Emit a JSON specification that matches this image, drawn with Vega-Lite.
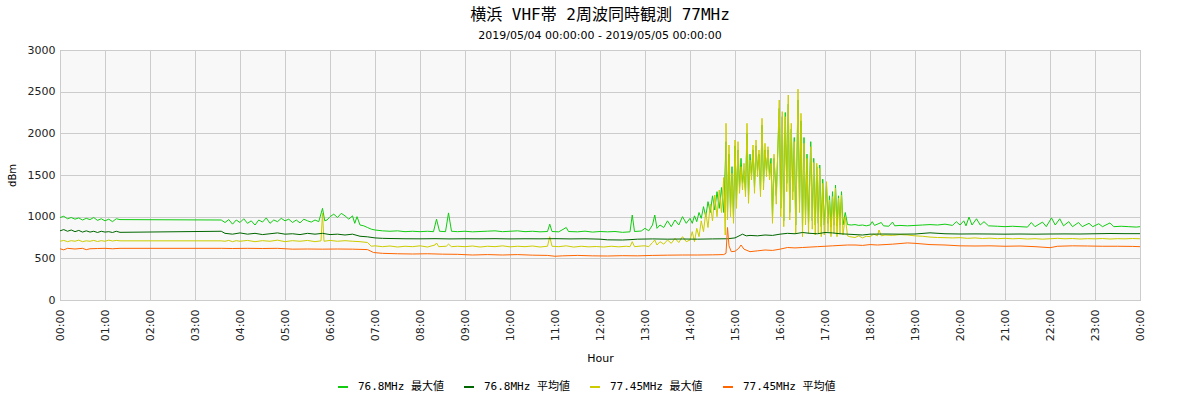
{
"$schema": "https://vega.github.io/schema/vega-lite/v6.json",
"width": 1080, "height": 250,
"autosize": {"type": "none"},
"padding": {"left": 60, "top": 50, "right": 60, "bottom": 100},
"background": "#ffffff",
"title": {"text": "横浜 VHF帯 2周波同時観測 77MHz", "subtitle": "2019/05/04 00:00:00 - 2019/05/05 00:00:00", "anchor": "middle", "font": "DejaVu Sans Mono, Noto Sans CJK JP", "fontSize": 16, "fontWeight": "normal", "color": "#000000", "subtitleFont": "DejaVu Sans", "subtitleFontSize": 11, "subtitleColor": "#000000", "subtitlePadding": 7, "offset": 3},
"config": {
 "view": {"fill": "#f8f8f8", "stroke": "#aaaaaa", "strokeWidth": 1},
 "axis": {"gridColor": "#cccccc", "gridWidth": 1, "domain": false, "ticks": false, "labelFont": "DejaVu Sans", "labelFontSize": 11, "labelColor": "#222222", "titleFont": "DejaVu Sans", "titleFontSize": 11, "titleFontWeight": "normal", "titleColor": "#000000"}
},
"data": {"values": [
{"s":"76.8MHz 最大値","t":"2019-05-04T00:00","v":990},{"s":"76.8MHz 最大値","t":"2019-05-04T00:05","v":1005},{"s":"76.8MHz 最大値","t":"2019-05-04T00:10","v":975},{"s":"76.8MHz 最大値","t":"2019-05-04T00:15","v":990},{"s":"76.8MHz 最大値","t":"2019-05-04T00:20","v":970},{"s":"76.8MHz 最大値","t":"2019-05-04T00:25","v":985},{"s":"76.8MHz 最大値","t":"2019-05-04T00:30","v":960},{"s":"76.8MHz 最大値","t":"2019-05-04T00:35","v":980},{"s":"76.8MHz 最大値","t":"2019-05-04T00:40","v":965},{"s":"76.8MHz 最大値","t":"2019-05-04T00:45","v":990},{"s":"76.8MHz 最大値","t":"2019-05-04T00:50","v":955},{"s":"76.8MHz 最大値","t":"2019-05-04T00:55","v":975},{"s":"76.8MHz 最大値","t":"2019-05-04T01:00","v":950},{"s":"76.8MHz 最大値","t":"2019-05-04T01:05","v":970},{"s":"76.8MHz 最大値","t":"2019-05-04T01:10","v":940},{"s":"76.8MHz 最大値","t":"2019-05-04T01:15","v":975},{"s":"76.8MHz 最大値","t":"2019-05-04T01:20","v":965},
{"s":"76.8MHz 最大値","t":"2019-05-04T03:35","v":960},{"s":"76.8MHz 最大値","t":"2019-05-04T03:40","v":930},{"s":"76.8MHz 最大値","t":"2019-05-04T03:45","v":965},{"s":"76.8MHz 最大値","t":"2019-05-04T03:50","v":910},{"s":"76.8MHz 最大値","t":"2019-05-04T03:55","v":960},{"s":"76.8MHz 最大値","t":"2019-05-04T04:00","v":930},{"s":"76.8MHz 最大値","t":"2019-05-04T04:05","v":975},{"s":"76.8MHz 最大値","t":"2019-05-04T04:10","v":920},{"s":"76.8MHz 最大値","t":"2019-05-04T04:15","v":950},{"s":"76.8MHz 最大値","t":"2019-05-04T04:20","v":900},{"s":"76.8MHz 最大値","t":"2019-05-04T04:25","v":960},{"s":"76.8MHz 最大値","t":"2019-05-04T04:30","v":935},{"s":"76.8MHz 最大値","t":"2019-05-04T04:35","v":985},{"s":"76.8MHz 最大値","t":"2019-05-04T04:40","v":920},{"s":"76.8MHz 最大値","t":"2019-05-04T04:45","v":960},{"s":"76.8MHz 最大値","t":"2019-05-04T04:50","v":940},{"s":"76.8MHz 最大値","t":"2019-05-04T04:55","v":980},{"s":"76.8MHz 最大値","t":"2019-05-04T05:00","v":950},{"s":"76.8MHz 最大値","t":"2019-05-04T05:05","v":970},{"s":"76.8MHz 最大値","t":"2019-05-04T05:10","v":930},{"s":"76.8MHz 最大値","t":"2019-05-04T05:15","v":960},{"s":"76.8MHz 最大値","t":"2019-05-04T05:20","v":925},{"s":"76.8MHz 最大値","t":"2019-05-04T05:25","v":970},{"s":"76.8MHz 最大値","t":"2019-05-04T05:30","v":950},{"s":"76.8MHz 最大値","t":"2019-05-04T05:35","v":935},{"s":"76.8MHz 最大値","t":"2019-05-04T05:40","v":960},{"s":"76.8MHz 最大値","t":"2019-05-04T05:45","v":940},{"s":"76.8MHz 最大値","t":"2019-05-04T05:50","v":1100},{"s":"76.8MHz 最大値","t":"2019-05-04T05:53","v":950},{"s":"76.8MHz 最大値","t":"2019-05-04T05:56","v":960},{"s":"76.8MHz 最大値","t":"2019-05-04T06:00","v":1000},{"s":"76.8MHz 最大値","t":"2019-05-04T06:05","v":1030},{"s":"76.8MHz 最大値","t":"2019-05-04T06:10","v":990},{"s":"76.8MHz 最大値","t":"2019-05-04T06:15","v":1040},{"s":"76.8MHz 最大値","t":"2019-05-04T06:20","v":1010},{"s":"76.8MHz 最大値","t":"2019-05-04T06:25","v":970},{"s":"76.8MHz 最大値","t":"2019-05-04T06:30","v":1010},{"s":"76.8MHz 最大値","t":"2019-05-04T06:33","v":920},{"s":"76.8MHz 最大値","t":"2019-05-04T06:36","v":1000},{"s":"76.8MHz 最大値","t":"2019-05-04T06:40","v":900},{"s":"76.8MHz 最大値","t":"2019-05-04T06:45","v":890},{"s":"76.8MHz 最大値","t":"2019-05-04T06:50","v":870},{"s":"76.8MHz 最大値","t":"2019-05-04T06:55","v":850},{"s":"76.8MHz 最大値","t":"2019-05-04T07:00","v":840},{"s":"76.8MHz 最大値","t":"2019-05-04T07:10","v":830},{"s":"76.8MHz 最大値","t":"2019-05-04T07:20","v":825},{"s":"76.8MHz 最大値","t":"2019-05-04T07:30","v":830},{"s":"76.8MHz 最大値","t":"2019-05-04T07:40","v":820},{"s":"76.8MHz 最大値","t":"2019-05-04T07:50","v":825},{"s":"76.8MHz 最大値","t":"2019-05-04T08:00","v":820},{"s":"76.8MHz 最大値","t":"2019-05-04T08:10","v":825},{"s":"76.8MHz 最大値","t":"2019-05-04T08:18","v":820},{"s":"76.8MHz 最大値","t":"2019-05-04T08:22","v":970},{"s":"76.8MHz 最大値","t":"2019-05-04T08:26","v":825},{"s":"76.8MHz 最大値","t":"2019-05-04T08:34","v":820},{"s":"76.8MHz 最大値","t":"2019-05-04T08:38","v":1045},{"s":"76.8MHz 最大値","t":"2019-05-04T08:42","v":825},{"s":"76.8MHz 最大値","t":"2019-05-04T08:50","v":820},{"s":"76.8MHz 最大値","t":"2019-05-04T09:00","v":825},{"s":"76.8MHz 最大値","t":"2019-05-04T09:10","v":818},{"s":"76.8MHz 最大値","t":"2019-05-04T09:20","v":822},{"s":"76.8MHz 最大値","t":"2019-05-04T09:30","v":826},{"s":"76.8MHz 最大値","t":"2019-05-04T09:40","v":830},{"s":"76.8MHz 最大値","t":"2019-05-04T09:50","v":820},{"s":"76.8MHz 最大値","t":"2019-05-04T10:00","v":825},{"s":"76.8MHz 最大値","t":"2019-05-04T10:10","v":830},{"s":"76.8MHz 最大値","t":"2019-05-04T10:20","v":820},{"s":"76.8MHz 最大値","t":"2019-05-04T10:30","v":825},{"s":"76.8MHz 最大値","t":"2019-05-04T10:40","v":818},{"s":"76.8MHz 最大値","t":"2019-05-04T10:50","v":822},{"s":"76.8MHz 最大値","t":"2019-05-04T10:53","v":910},{"s":"76.8MHz 最大値","t":"2019-05-04T10:56","v":822},{"s":"76.8MHz 最大値","t":"2019-05-04T11:05","v":818},{"s":"76.8MHz 最大値","t":"2019-05-04T11:15","v":870},{"s":"76.8MHz 最大値","t":"2019-05-04T11:18","v":822},{"s":"76.8MHz 最大値","t":"2019-05-04T11:30","v":818},{"s":"76.8MHz 最大値","t":"2019-05-04T11:40","v":826},{"s":"76.8MHz 最大値","t":"2019-05-04T11:50","v":815},{"s":"76.8MHz 最大値","t":"2019-05-04T12:00","v":822},{"s":"76.8MHz 最大値","t":"2019-05-04T12:10","v":818},{"s":"76.8MHz 最大値","t":"2019-05-04T12:20","v":822},{"s":"76.8MHz 最大値","t":"2019-05-04T12:30","v":812},{"s":"76.8MHz 最大値","t":"2019-05-04T12:40","v":818},{"s":"76.8MHz 最大値","t":"2019-05-04T12:43","v":1020},{"s":"76.8MHz 最大値","t":"2019-05-04T12:46","v":822},{"s":"76.8MHz 最大値","t":"2019-05-04T12:55","v":828},{"s":"76.8MHz 最大値","t":"2019-05-04T13:00","v":860},{"s":"76.8MHz 最大値","t":"2019-05-04T13:05","v":830},{"s":"76.8MHz 最大値","t":"2019-05-04T13:10","v":900},{"s":"76.8MHz 最大値","t":"2019-05-04T13:13","v":1020},{"s":"76.8MHz 最大値","t":"2019-05-04T13:16","v":860},{"s":"76.8MHz 最大値","t":"2019-05-04T13:20","v":900},{"s":"76.8MHz 最大値","t":"2019-05-04T13:25","v":870},{"s":"76.8MHz 最大値","t":"2019-05-04T13:30","v":950},{"s":"76.8MHz 最大値","t":"2019-05-04T13:35","v":880},{"s":"76.8MHz 最大値","t":"2019-05-04T13:40","v":960},{"s":"76.8MHz 最大値","t":"2019-05-04T13:45","v":900},{"s":"76.8MHz 最大値","t":"2019-05-04T13:50","v":1000},{"s":"76.8MHz 最大値","t":"2019-05-04T13:55","v":920},{"s":"76.8MHz 最大値","t":"2019-05-04T14:00","v":980},{"s":"76.8MHz 最大値","t":"2019-05-04T14:03","v":920},{"s":"76.8MHz 最大値","t":"2019-05-04T14:06","v":1010},{"s":"76.8MHz 最大値","t":"2019-05-04T14:09","v":940},{"s":"76.8MHz 最大値","t":"2019-05-04T14:12","v":1050},{"s":"76.8MHz 最大値","t":"2019-05-04T14:15","v":980},{"s":"76.8MHz 最大値","t":"2019-05-04T14:18","v":1120},{"s":"76.8MHz 最大値","t":"2019-05-04T14:21","v":1000},{"s":"76.8MHz 最大値","t":"2019-05-04T14:24","v":1180},{"s":"76.8MHz 最大値","t":"2019-05-04T14:27","v":1050},{"s":"76.8MHz 最大値","t":"2019-05-04T14:30","v":1250},{"s":"76.8MHz 最大値","t":"2019-05-04T14:33","v":1080},{"s":"76.8MHz 最大値","t":"2019-05-04T14:36","v":1300},{"s":"76.8MHz 最大値","t":"2019-05-04T14:39","v":1100},{"s":"76.8MHz 最大値","t":"2019-05-04T14:42","v":1350},{"s":"76.8MHz 最大値","t":"2019-05-04T14:45","v":1050},
{"s":"76.8MHz 最大値","t":"2019-05-04T14:48","v":1900},{"s":"76.8MHz 最大値","t":"2019-05-04T14:50","v":1050},{"s":"76.8MHz 最大値","t":"2019-05-04T14:52","v":1750},{"s":"76.8MHz 最大値","t":"2019-05-04T14:54","v":1100},{"s":"76.8MHz 最大値","t":"2019-05-04T14:56","v":1600},{"s":"76.8MHz 最大値","t":"2019-05-04T14:58","v":1000},{"s":"76.8MHz 最大値","t":"2019-05-04T15:00","v":1850},{"s":"76.8MHz 最大値","t":"2019-05-04T15:02","v":1200},{"s":"76.8MHz 最大値","t":"2019-05-04T15:04","v":1800},{"s":"76.8MHz 最大値","t":"2019-05-04T15:06","v":1350},{"s":"76.8MHz 最大値","t":"2019-05-04T15:08","v":1700},{"s":"76.8MHz 最大値","t":"2019-05-04T15:10","v":1400},{"s":"76.8MHz 最大値","t":"2019-05-04T15:12","v":1550},{"s":"76.8MHz 最大値","t":"2019-05-04T15:14","v":1300},{"s":"76.8MHz 最大値","t":"2019-05-04T15:16","v":2000},{"s":"76.8MHz 最大値","t":"2019-05-04T15:18","v":1250},{"s":"76.8MHz 最大値","t":"2019-05-04T15:20","v":1750},{"s":"76.8MHz 最大値","t":"2019-05-04T15:22","v":1500},{"s":"76.8MHz 最大値","t":"2019-05-04T15:24","v":1800},{"s":"76.8MHz 最大値","t":"2019-05-04T15:26","v":1350},{"s":"76.8MHz 最大値","t":"2019-05-04T15:28","v":1850},{"s":"76.8MHz 最大値","t":"2019-05-04T15:30","v":1550},{"s":"76.8MHz 最大値","t":"2019-05-04T15:32","v":1750},{"s":"76.8MHz 最大値","t":"2019-05-04T15:34","v":1300},{"s":"76.8MHz 最大値","t":"2019-05-04T15:36","v":2100},{"s":"76.8MHz 最大値","t":"2019-05-04T15:38","v":1400},{"s":"76.8MHz 最大値","t":"2019-05-04T15:40","v":1800},{"s":"76.8MHz 最大値","t":"2019-05-04T15:42","v":1550},{"s":"76.8MHz 最大値","t":"2019-05-04T15:44","v":1800},{"s":"76.8MHz 最大値","t":"2019-05-04T15:46","v":1500},{"s":"76.8MHz 最大値","t":"2019-05-04T15:48","v":1700},{"s":"76.8MHz 最大値","t":"2019-05-04T15:50","v":1000},{"s":"76.8MHz 最大値","t":"2019-05-04T15:52","v":1700},{"s":"76.8MHz 最大値","t":"2019-05-04T15:55","v":1250},{"s":"76.8MHz 最大値","t":"2019-05-04T15:59","v":2300},{"s":"76.8MHz 最大値","t":"2019-05-04T16:01","v":1100},{"s":"76.8MHz 最大値","t":"2019-05-04T16:03","v":2200},{"s":"76.8MHz 最大値","t":"2019-05-04T16:05","v":950},{"s":"76.8MHz 最大値","t":"2019-05-04T16:07","v":2250},{"s":"76.8MHz 最大値","t":"2019-05-04T16:09","v":1400},{"s":"76.8MHz 最大値","t":"2019-05-04T16:11","v":2350},{"s":"76.8MHz 最大値","t":"2019-05-04T16:13","v":1050},{"s":"76.8MHz 最大値","t":"2019-05-04T16:15","v":2050},{"s":"76.8MHz 最大値","t":"2019-05-04T16:17","v":1300},{"s":"76.8MHz 最大値","t":"2019-05-04T16:19","v":1950},{"s":"76.8MHz 最大値","t":"2019-05-04T16:21","v":900},{"s":"76.8MHz 最大値","t":"2019-05-04T16:24","v":2400},{"s":"76.8MHz 最大値","t":"2019-05-04T16:26","v":1150},{"s":"76.8MHz 最大値","t":"2019-05-04T16:28","v":2150},{"s":"76.8MHz 最大値","t":"2019-05-04T16:30","v":880},{"s":"76.8MHz 最大値","t":"2019-05-04T16:32","v":1950},{"s":"76.8MHz 最大値","t":"2019-05-04T16:34","v":1000},{"s":"76.8MHz 最大値","t":"2019-05-04T16:36","v":1750},{"s":"76.8MHz 最大値","t":"2019-05-04T16:38","v":920},{"s":"76.8MHz 最大値","t":"2019-05-04T16:41","v":1900},{"s":"76.8MHz 最大値","t":"2019-05-04T16:43","v":950},{"s":"76.8MHz 最大値","t":"2019-05-04T16:45","v":1700},{"s":"76.8MHz 最大値","t":"2019-05-04T16:47","v":900},{"s":"76.8MHz 最大値","t":"2019-05-04T16:49","v":1600},{"s":"76.8MHz 最大値","t":"2019-05-04T16:51","v":920},{"s":"76.8MHz 最大値","t":"2019-05-04T16:53","v":1620},{"s":"76.8MHz 最大値","t":"2019-05-04T16:55","v":880},{"s":"76.8MHz 最大値","t":"2019-05-04T16:57","v":1450},{"s":"76.8MHz 最大値","t":"2019-05-04T16:59","v":900},{"s":"76.8MHz 最大値","t":"2019-05-04T17:02","v":1380},{"s":"76.8MHz 最大値","t":"2019-05-04T17:04","v":920},{"s":"76.8MHz 最大値","t":"2019-05-04T17:06","v":1250},{"s":"76.8MHz 最大値","t":"2019-05-04T17:08","v":880},{"s":"76.8MHz 最大値","t":"2019-05-04T17:10","v":1300},{"s":"76.8MHz 最大値","t":"2019-05-04T17:12","v":900},{"s":"76.8MHz 最大値","t":"2019-05-04T17:14","v":1380},{"s":"76.8MHz 最大値","t":"2019-05-04T17:16","v":890},{"s":"76.8MHz 最大値","t":"2019-05-04T17:18","v":1250},{"s":"76.8MHz 最大値","t":"2019-05-04T17:20","v":900},{"s":"76.8MHz 最大値","t":"2019-05-04T17:22","v":1300},{"s":"76.8MHz 最大値","t":"2019-05-04T17:24","v":900},{"s":"76.8MHz 最大値","t":"2019-05-04T17:27","v":1050},{"s":"76.8MHz 最大値","t":"2019-05-04T17:30","v":905},
{"s":"76.8MHz 最大値","t":"2019-05-04T17:35","v":900},{"s":"76.8MHz 最大値","t":"2019-05-04T17:40","v":905},{"s":"76.8MHz 最大値","t":"2019-05-04T17:45","v":895},{"s":"76.8MHz 最大値","t":"2019-05-04T17:50","v":900},{"s":"76.8MHz 最大値","t":"2019-05-04T17:55","v":890},{"s":"76.8MHz 最大値","t":"2019-05-04T18:00","v":900},{"s":"76.8MHz 最大値","t":"2019-05-04T18:03","v":940},{"s":"76.8MHz 最大値","t":"2019-05-04T18:06","v":895},{"s":"76.8MHz 最大値","t":"2019-05-04T18:15","v":930},{"s":"76.8MHz 最大値","t":"2019-05-04T18:18","v":890},{"s":"76.8MHz 最大値","t":"2019-05-04T18:25","v":885},{"s":"76.8MHz 最大値","t":"2019-05-04T18:30","v":935},{"s":"76.8MHz 最大値","t":"2019-05-04T18:33","v":890},{"s":"76.8MHz 最大値","t":"2019-05-04T18:40","v":895},{"s":"76.8MHz 最大値","t":"2019-05-04T18:50","v":890},{"s":"76.8MHz 最大値","t":"2019-05-04T19:00","v":895},{"s":"76.8MHz 最大値","t":"2019-05-04T19:10","v":900},{"s":"76.8MHz 最大値","t":"2019-05-04T19:20","v":905},{"s":"76.8MHz 最大値","t":"2019-05-04T19:30","v":900},{"s":"76.8MHz 最大値","t":"2019-05-04T19:40","v":910},{"s":"76.8MHz 最大値","t":"2019-05-04T19:50","v":895},{"s":"76.8MHz 最大値","t":"2019-05-04T19:55","v":940},{"s":"76.8MHz 最大値","t":"2019-05-04T20:00","v":900},{"s":"76.8MHz 最大値","t":"2019-05-04T20:05","v":950},{"s":"76.8MHz 最大値","t":"2019-05-04T20:08","v":890},{"s":"76.8MHz 最大値","t":"2019-05-04T20:12","v":995},{"s":"76.8MHz 最大値","t":"2019-05-04T20:16","v":900},{"s":"76.8MHz 最大値","t":"2019-05-04T20:22","v":975},{"s":"76.8MHz 最大値","t":"2019-05-04T20:27","v":900},{"s":"76.8MHz 最大値","t":"2019-05-04T20:32","v":940},{"s":"76.8MHz 最大値","t":"2019-05-04T20:38","v":890},{"s":"76.8MHz 最大値","t":"2019-05-04T20:50","v":885},{"s":"76.8MHz 最大値","t":"2019-05-04T21:00","v":880},{"s":"76.8MHz 最大値","t":"2019-05-04T21:10","v":885},{"s":"76.8MHz 最大値","t":"2019-05-04T21:20","v":880},{"s":"76.8MHz 最大値","t":"2019-05-04T21:30","v":875},{"s":"76.8MHz 最大値","t":"2019-05-04T21:35","v":930},{"s":"76.8MHz 最大値","t":"2019-05-04T21:40","v":880},{"s":"76.8MHz 最大値","t":"2019-05-04T21:50","v":935},{"s":"76.8MHz 最大値","t":"2019-05-04T21:55","v":880},{"s":"76.8MHz 最大値","t":"2019-05-04T22:02","v":985},{"s":"76.8MHz 最大値","t":"2019-05-04T22:07","v":900},{"s":"76.8MHz 最大値","t":"2019-05-04T22:13","v":975},{"s":"76.8MHz 最大値","t":"2019-05-04T22:18","v":890},{"s":"76.8MHz 最大値","t":"2019-05-04T22:25","v":940},{"s":"76.8MHz 最大値","t":"2019-05-04T22:30","v":880},{"s":"76.8MHz 最大値","t":"2019-05-04T22:38","v":930},{"s":"76.8MHz 最大値","t":"2019-05-04T22:43","v":880},{"s":"76.8MHz 最大値","t":"2019-05-04T22:52","v":920},{"s":"76.8MHz 最大値","t":"2019-05-04T22:57","v":880},{"s":"76.8MHz 最大値","t":"2019-05-04T23:05","v":915},{"s":"76.8MHz 最大値","t":"2019-05-04T23:10","v":880},{"s":"76.8MHz 最大値","t":"2019-05-04T23:20","v":925},{"s":"76.8MHz 最大値","t":"2019-05-04T23:25","v":880},{"s":"76.8MHz 最大値","t":"2019-05-04T23:35","v":885},{"s":"76.8MHz 最大値","t":"2019-05-04T23:45","v":880},{"s":"76.8MHz 最大値","t":"2019-05-04T23:55","v":875},{"s":"76.8MHz 最大値","t":"2019-05-05T00:00","v":880},
{"s":"77.45MHz 最大値","t":"2019-05-04T00:00","v":705},{"s":"77.45MHz 最大値","t":"2019-05-04T00:05","v":715},{"s":"77.45MHz 最大値","t":"2019-05-04T00:10","v":700},{"s":"77.45MHz 最大値","t":"2019-05-04T00:15","v":712},{"s":"77.45MHz 最大値","t":"2019-05-04T00:20","v":705},{"s":"77.45MHz 最大値","t":"2019-05-04T00:25","v":718},{"s":"77.45MHz 最大値","t":"2019-05-04T00:30","v":700},{"s":"77.45MHz 最大値","t":"2019-05-04T00:35","v":710},{"s":"77.45MHz 最大値","t":"2019-05-04T00:40","v":705},{"s":"77.45MHz 最大値","t":"2019-05-04T00:45","v":715},{"s":"77.45MHz 最大値","t":"2019-05-04T00:50","v":702},{"s":"77.45MHz 最大値","t":"2019-05-04T00:55","v":712},{"s":"77.45MHz 最大値","t":"2019-05-04T01:00","v":705},{"s":"77.45MHz 最大値","t":"2019-05-04T01:05","v":718},{"s":"77.45MHz 最大値","t":"2019-05-04T01:10","v":708},{"s":"77.45MHz 最大値","t":"2019-05-04T01:15","v":715},{"s":"77.45MHz 最大値","t":"2019-05-04T01:20","v":710},
{"s":"77.45MHz 最大値","t":"2019-05-04T03:35","v":710},{"s":"77.45MHz 最大値","t":"2019-05-04T03:40","v":705},{"s":"77.45MHz 最大値","t":"2019-05-04T03:45","v":715},{"s":"77.45MHz 最大値","t":"2019-05-04T03:50","v":700},{"s":"77.45MHz 最大値","t":"2019-05-04T03:55","v":712},{"s":"77.45MHz 最大値","t":"2019-05-04T04:00","v":705},{"s":"77.45MHz 最大値","t":"2019-05-04T04:10","v":715},{"s":"77.45MHz 最大値","t":"2019-05-04T04:20","v":700},{"s":"77.45MHz 最大値","t":"2019-05-04T04:30","v":712},{"s":"77.45MHz 最大値","t":"2019-05-04T04:40","v":705},{"s":"77.45MHz 最大値","t":"2019-05-04T04:50","v":718},{"s":"77.45MHz 最大値","t":"2019-05-04T05:00","v":700},{"s":"77.45MHz 最大値","t":"2019-05-04T05:10","v":712},{"s":"77.45MHz 最大値","t":"2019-05-04T05:20","v":705},{"s":"77.45MHz 最大値","t":"2019-05-04T05:30","v":715},{"s":"77.45MHz 最大値","t":"2019-05-04T05:40","v":700},{"s":"77.45MHz 最大値","t":"2019-05-04T05:48","v":710},{"s":"77.45MHz 最大値","t":"2019-05-04T05:50","v":1040},{"s":"77.45MHz 最大値","t":"2019-05-04T05:52","v":705},{"s":"77.45MHz 最大値","t":"2019-05-04T06:00","v":715},{"s":"77.45MHz 最大値","t":"2019-05-04T06:10","v":705},{"s":"77.45MHz 最大値","t":"2019-05-04T06:20","v":712},{"s":"77.45MHz 最大値","t":"2019-05-04T06:30","v":705},{"s":"77.45MHz 最大値","t":"2019-05-04T06:40","v":700},{"s":"77.45MHz 最大値","t":"2019-05-04T06:50","v":690},{"s":"77.45MHz 最大値","t":"2019-05-04T06:55","v":645},{"s":"77.45MHz 最大値","t":"2019-05-04T07:00","v":650},{"s":"77.45MHz 最大値","t":"2019-05-04T07:10","v":640},{"s":"77.45MHz 最大値","t":"2019-05-04T07:20","v":648},{"s":"77.45MHz 最大値","t":"2019-05-04T07:30","v":636},{"s":"77.45MHz 最大値","t":"2019-05-04T07:40","v":645},{"s":"77.45MHz 最大値","t":"2019-05-04T07:50","v":640},{"s":"77.45MHz 最大値","t":"2019-05-04T08:00","v":650},{"s":"77.45MHz 最大値","t":"2019-05-04T08:10","v":636},{"s":"77.45MHz 最大値","t":"2019-05-04T08:20","v":660},{"s":"77.45MHz 最大値","t":"2019-05-04T08:22","v":684},{"s":"77.45MHz 最大値","t":"2019-05-04T08:25","v":640},{"s":"77.45MHz 最大値","t":"2019-05-04T08:35","v":645},{"s":"77.45MHz 最大値","t":"2019-05-04T08:38","v":670},{"s":"77.45MHz 最大値","t":"2019-05-04T08:42","v":640},{"s":"77.45MHz 最大値","t":"2019-05-04T08:50","v":645},{"s":"77.45MHz 最大値","t":"2019-05-04T09:00","v":640},{"s":"77.45MHz 最大値","t":"2019-05-04T09:10","v":648},{"s":"77.45MHz 最大値","t":"2019-05-04T09:20","v":636},{"s":"77.45MHz 最大値","t":"2019-05-04T09:30","v":645},{"s":"77.45MHz 最大値","t":"2019-05-04T09:40","v":640},{"s":"77.45MHz 最大値","t":"2019-05-04T09:50","v":650},{"s":"77.45MHz 最大値","t":"2019-05-04T10:00","v":638},{"s":"77.45MHz 最大値","t":"2019-05-04T10:10","v":645},{"s":"77.45MHz 最大値","t":"2019-05-04T10:20","v":640},{"s":"77.45MHz 最大値","t":"2019-05-04T10:30","v":648},{"s":"77.45MHz 最大値","t":"2019-05-04T10:40","v":636},{"s":"77.45MHz 最大値","t":"2019-05-04T10:50","v":645},{"s":"77.45MHz 最大値","t":"2019-05-04T10:53","v":760},{"s":"77.45MHz 最大値","t":"2019-05-04T10:56","v":645},{"s":"77.45MHz 最大値","t":"2019-05-04T11:05","v":640},{"s":"77.45MHz 最大値","t":"2019-05-04T11:15","v":650},{"s":"77.45MHz 最大値","t":"2019-05-04T11:25","v":635},{"s":"77.45MHz 最大値","t":"2019-05-04T11:35","v":645},{"s":"77.45MHz 最大値","t":"2019-05-04T11:45","v":638},{"s":"77.45MHz 最大値","t":"2019-05-04T11:55","v":642},{"s":"77.45MHz 最大値","t":"2019-05-04T12:05","v":636},{"s":"77.45MHz 最大値","t":"2019-05-04T12:15","v":645},{"s":"77.45MHz 最大値","t":"2019-05-04T12:25","v":638},{"s":"77.45MHz 最大値","t":"2019-05-04T12:35","v":645},{"s":"77.45MHz 最大値","t":"2019-05-04T12:40","v":640},{"s":"77.45MHz 最大値","t":"2019-05-04T12:43","v":700},{"s":"77.45MHz 最大値","t":"2019-05-04T12:46","v":640},{"s":"77.45MHz 最大値","t":"2019-05-04T12:55","v":648},{"s":"77.45MHz 最大値","t":"2019-05-04T13:00","v":650},{"s":"77.45MHz 最大値","t":"2019-05-04T13:05","v":640},{"s":"77.45MHz 最大値","t":"2019-05-04T13:10","v":690},{"s":"77.45MHz 最大値","t":"2019-05-04T13:13","v":720},{"s":"77.45MHz 最大値","t":"2019-05-04T13:16","v":660},{"s":"77.45MHz 最大値","t":"2019-05-04T13:20","v":700},{"s":"77.45MHz 最大値","t":"2019-05-04T13:25","v":670},{"s":"77.45MHz 最大値","t":"2019-05-04T13:30","v":720},{"s":"77.45MHz 最大値","t":"2019-05-04T13:35","v":680},{"s":"77.45MHz 最大値","t":"2019-05-04T13:40","v":740},{"s":"77.45MHz 最大値","t":"2019-05-04T13:45","v":690},{"s":"77.45MHz 最大値","t":"2019-05-04T13:50","v":760},{"s":"77.45MHz 最大値","t":"2019-05-04T13:55","v":700},{"s":"77.45MHz 最大値","t":"2019-05-04T14:00","v":720},{"s":"77.45MHz 最大値","t":"2019-05-04T14:03","v":820},{"s":"77.45MHz 最大値","t":"2019-05-04T14:06","v":700},{"s":"77.45MHz 最大値","t":"2019-05-04T14:09","v":860},{"s":"77.45MHz 最大値","t":"2019-05-04T14:12","v":760},{"s":"77.45MHz 最大値","t":"2019-05-04T14:15","v":950},{"s":"77.45MHz 最大値","t":"2019-05-04T14:18","v":820},{"s":"77.45MHz 最大値","t":"2019-05-04T14:21","v":1050},{"s":"77.45MHz 最大値","t":"2019-05-04T14:24","v":870},{"s":"77.45MHz 最大値","t":"2019-05-04T14:27","v":1150},{"s":"77.45MHz 最大値","t":"2019-05-04T14:30","v":950},{"s":"77.45MHz 最大値","t":"2019-05-04T14:33","v":1260},{"s":"77.45MHz 最大値","t":"2019-05-04T14:36","v":1000},{"s":"77.45MHz 最大値","t":"2019-05-04T14:39","v":1320},{"s":"77.45MHz 最大値","t":"2019-05-04T14:42","v":1050},{"s":"77.45MHz 最大値","t":"2019-05-04T14:45","v":1470},{"s":"77.45MHz 最大値","t":"2019-05-04T14:47","v":780},
{"s":"77.45MHz 最大値","t":"2019-05-04T14:48","v":2120},{"s":"77.45MHz 最大値","t":"2019-05-04T14:50","v":960},{"s":"77.45MHz 最大値","t":"2019-05-04T14:52","v":1860},{"s":"77.45MHz 最大値","t":"2019-05-04T14:54","v":1000},{"s":"77.45MHz 最大値","t":"2019-05-04T14:56","v":1520},{"s":"77.45MHz 最大値","t":"2019-05-04T14:58","v":920},{"s":"77.45MHz 最大値","t":"2019-05-04T15:00","v":1920},{"s":"77.45MHz 最大値","t":"2019-05-04T15:02","v":1100},{"s":"77.45MHz 最大値","t":"2019-05-04T15:04","v":1900},{"s":"77.45MHz 最大値","t":"2019-05-04T15:06","v":1280},{"s":"77.45MHz 最大値","t":"2019-05-04T15:08","v":1600},{"s":"77.45MHz 最大値","t":"2019-05-04T15:10","v":1320},{"s":"77.45MHz 最大値","t":"2019-05-04T15:12","v":1640},{"s":"77.45MHz 最大値","t":"2019-05-04T15:14","v":1240},{"s":"77.45MHz 最大値","t":"2019-05-04T15:16","v":2120},{"s":"77.45MHz 最大値","t":"2019-05-04T15:18","v":1160},{"s":"77.45MHz 最大値","t":"2019-05-04T15:20","v":1680},{"s":"77.45MHz 最大値","t":"2019-05-04T15:22","v":1440},{"s":"77.45MHz 最大値","t":"2019-05-04T15:24","v":1860},{"s":"77.45MHz 最大値","t":"2019-05-04T15:26","v":1280},{"s":"77.45MHz 最大値","t":"2019-05-04T15:28","v":1920},{"s":"77.45MHz 最大値","t":"2019-05-04T15:30","v":1480},{"s":"77.45MHz 最大値","t":"2019-05-04T15:32","v":1800},{"s":"77.45MHz 最大値","t":"2019-05-04T15:34","v":1240},{"s":"77.45MHz 最大値","t":"2019-05-04T15:36","v":2180},{"s":"77.45MHz 最大値","t":"2019-05-04T15:38","v":1320},{"s":"77.45MHz 最大値","t":"2019-05-04T15:40","v":1880},{"s":"77.45MHz 最大値","t":"2019-05-04T15:42","v":1480},{"s":"77.45MHz 最大値","t":"2019-05-04T15:44","v":1840},{"s":"77.45MHz 最大値","t":"2019-05-04T15:46","v":1440},{"s":"77.45MHz 最大値","t":"2019-05-04T15:48","v":1640},{"s":"77.45MHz 最大値","t":"2019-05-04T15:50","v":920},{"s":"77.45MHz 最大値","t":"2019-05-04T15:52","v":1750},{"s":"77.45MHz 最大値","t":"2019-05-04T15:55","v":1150},{"s":"77.45MHz 最大値","t":"2019-05-04T15:59","v":2400},{"s":"77.45MHz 最大値","t":"2019-05-04T16:01","v":1000},{"s":"77.45MHz 最大値","t":"2019-05-04T16:03","v":2260},{"s":"77.45MHz 最大値","t":"2019-05-04T16:05","v":880},{"s":"77.45MHz 最大値","t":"2019-05-04T16:07","v":2200},{"s":"77.45MHz 最大値","t":"2019-05-04T16:09","v":1300},{"s":"77.45MHz 最大値","t":"2019-05-04T16:11","v":2460},{"s":"77.45MHz 最大値","t":"2019-05-04T16:13","v":960},{"s":"77.45MHz 最大値","t":"2019-05-04T16:15","v":2120},{"s":"77.45MHz 最大値","t":"2019-05-04T16:17","v":1200},{"s":"77.45MHz 最大値","t":"2019-05-04T16:19","v":1900},{"s":"77.45MHz 最大値","t":"2019-05-04T16:21","v":800},{"s":"77.45MHz 最大値","t":"2019-05-04T16:24","v":2530},{"s":"77.45MHz 最大値","t":"2019-05-04T16:26","v":1050},{"s":"77.45MHz 最大値","t":"2019-05-04T16:28","v":2240},{"s":"77.45MHz 最大値","t":"2019-05-04T16:30","v":760},{"s":"77.45MHz 最大値","t":"2019-05-04T16:32","v":1880},{"s":"77.45MHz 最大値","t":"2019-05-04T16:34","v":900},{"s":"77.45MHz 最大値","t":"2019-05-04T16:36","v":1700},{"s":"77.45MHz 最大値","t":"2019-05-04T16:38","v":800},{"s":"77.45MHz 最大値","t":"2019-05-04T16:41","v":1840},{"s":"77.45MHz 最大値","t":"2019-05-04T16:43","v":850},{"s":"77.45MHz 最大値","t":"2019-05-04T16:45","v":1650},{"s":"77.45MHz 最大値","t":"2019-05-04T16:47","v":780},{"s":"77.45MHz 最大値","t":"2019-05-04T16:49","v":1640},{"s":"77.45MHz 最大値","t":"2019-05-04T16:51","v":800},{"s":"77.45MHz 最大値","t":"2019-05-04T16:53","v":1580},{"s":"77.45MHz 最大値","t":"2019-05-04T16:55","v":760},{"s":"77.45MHz 最大値","t":"2019-05-04T16:57","v":1400},{"s":"77.45MHz 最大値","t":"2019-05-04T16:59","v":780},{"s":"77.45MHz 最大値","t":"2019-05-04T17:02","v":1420},{"s":"77.45MHz 最大値","t":"2019-05-04T17:04","v":820},{"s":"77.45MHz 最大値","t":"2019-05-04T17:06","v":1200},{"s":"77.45MHz 最大値","t":"2019-05-04T17:08","v":760},{"s":"77.45MHz 最大値","t":"2019-05-04T17:10","v":1240},{"s":"77.45MHz 最大値","t":"2019-05-04T17:12","v":800},{"s":"77.45MHz 最大値","t":"2019-05-04T17:14","v":1340},{"s":"77.45MHz 最大値","t":"2019-05-04T17:16","v":760},{"s":"77.45MHz 最大値","t":"2019-05-04T17:18","v":1220},{"s":"77.45MHz 最大値","t":"2019-05-04T17:20","v":790},{"s":"77.45MHz 最大値","t":"2019-05-04T17:22","v":1260},{"s":"77.45MHz 最大値","t":"2019-05-04T17:24","v":780},{"s":"77.45MHz 最大値","t":"2019-05-04T17:27","v":1000},{"s":"77.45MHz 最大値","t":"2019-05-04T17:30","v":770},
{"s":"77.45MHz 最大値","t":"2019-05-04T17:33","v":760},{"s":"77.45MHz 最大値","t":"2019-05-04T17:40","v":750},{"s":"77.45MHz 最大値","t":"2019-05-04T17:45","v":770},{"s":"77.45MHz 最大値","t":"2019-05-04T17:50","v":745},{"s":"77.45MHz 最大値","t":"2019-05-04T17:55","v":765},{"s":"77.45MHz 最大値","t":"2019-05-04T18:00","v":760},{"s":"77.45MHz 最大値","t":"2019-05-04T18:05","v":790},{"s":"77.45MHz 最大値","t":"2019-05-04T18:10","v":770},{"s":"77.45MHz 最大値","t":"2019-05-04T18:12","v":840},{"s":"77.45MHz 最大値","t":"2019-05-04T18:15","v":770},{"s":"77.45MHz 最大値","t":"2019-05-04T18:20","v":780},{"s":"77.45MHz 最大値","t":"2019-05-04T18:30","v":775},{"s":"77.45MHz 最大値","t":"2019-05-04T18:40","v":785},{"s":"77.45MHz 最大値","t":"2019-05-04T18:50","v":780},{"s":"77.45MHz 最大値","t":"2019-05-04T19:00","v":770},{"s":"77.45MHz 最大値","t":"2019-05-04T19:10","v":765},{"s":"77.45MHz 最大値","t":"2019-05-04T19:20","v":755},{"s":"77.45MHz 最大値","t":"2019-05-04T19:30","v":750},{"s":"77.45MHz 最大値","t":"2019-05-04T19:40","v":748},{"s":"77.45MHz 最大値","t":"2019-05-04T19:50","v":745},{"s":"77.45MHz 最大値","t":"2019-05-04T20:00","v":748},{"s":"77.45MHz 最大値","t":"2019-05-04T20:10","v":740},{"s":"77.45MHz 最大値","t":"2019-05-04T20:20","v":745},{"s":"77.45MHz 最大値","t":"2019-05-04T20:30","v":738},{"s":"77.45MHz 最大値","t":"2019-05-04T20:40","v":742},{"s":"77.45MHz 最大値","t":"2019-05-04T20:50","v":736},{"s":"77.45MHz 最大値","t":"2019-05-04T21:00","v":740},{"s":"77.45MHz 最大値","t":"2019-05-04T21:10","v":735},{"s":"77.45MHz 最大値","t":"2019-05-04T21:20","v":738},{"s":"77.45MHz 最大値","t":"2019-05-04T21:30","v":732},{"s":"77.45MHz 最大値","t":"2019-05-04T21:40","v":736},{"s":"77.45MHz 最大値","t":"2019-05-04T21:50","v":730},{"s":"77.45MHz 最大値","t":"2019-05-04T22:00","v":735},{"s":"77.45MHz 最大値","t":"2019-05-04T22:10","v":740},{"s":"77.45MHz 最大値","t":"2019-05-04T22:20","v":735},{"s":"77.45MHz 最大値","t":"2019-05-04T22:30","v":738},{"s":"77.45MHz 最大値","t":"2019-05-04T22:40","v":732},{"s":"77.45MHz 最大値","t":"2019-05-04T22:50","v":736},{"s":"77.45MHz 最大値","t":"2019-05-04T23:00","v":734},{"s":"77.45MHz 最大値","t":"2019-05-04T23:10","v":738},{"s":"77.45MHz 最大値","t":"2019-05-04T23:20","v":732},{"s":"77.45MHz 最大値","t":"2019-05-04T23:30","v":736},{"s":"77.45MHz 最大値","t":"2019-05-04T23:40","v":734},{"s":"77.45MHz 最大値","t":"2019-05-04T23:50","v":738},{"s":"77.45MHz 最大値","t":"2019-05-05T00:00","v":735},
{"s":"76.8MHz 平均値","t":"2019-05-04T00:00","v":830},{"s":"76.8MHz 平均値","t":"2019-05-04T00:05","v":845},{"s":"76.8MHz 平均値","t":"2019-05-04T00:10","v":825},{"s":"76.8MHz 平均値","t":"2019-05-04T00:15","v":840},{"s":"76.8MHz 平均値","t":"2019-05-04T00:20","v":820},{"s":"76.8MHz 平均値","t":"2019-05-04T00:25","v":835},{"s":"76.8MHz 平均値","t":"2019-05-04T00:30","v":815},{"s":"76.8MHz 平均値","t":"2019-05-04T00:35","v":830},{"s":"76.8MHz 平均値","t":"2019-05-04T00:40","v":815},{"s":"76.8MHz 平均値","t":"2019-05-04T00:45","v":825},{"s":"76.8MHz 平均値","t":"2019-05-04T00:50","v":810},{"s":"76.8MHz 平均値","t":"2019-05-04T00:55","v":825},{"s":"76.8MHz 平均値","t":"2019-05-04T01:00","v":815},{"s":"76.8MHz 平均値","t":"2019-05-04T01:05","v":820},{"s":"76.8MHz 平均値","t":"2019-05-04T01:10","v":810},{"s":"76.8MHz 平均値","t":"2019-05-04T01:15","v":825},{"s":"76.8MHz 平均値","t":"2019-05-04T01:20","v":812},
{"s":"76.8MHz 平均値","t":"2019-05-04T03:35","v":825},{"s":"76.8MHz 平均値","t":"2019-05-04T03:40","v":800},{"s":"76.8MHz 平均値","t":"2019-05-04T03:50","v":790},{"s":"76.8MHz 平均値","t":"2019-05-04T04:00","v":805},{"s":"76.8MHz 平均値","t":"2019-05-04T04:10","v":790},{"s":"76.8MHz 平均値","t":"2019-05-04T04:20","v":800},{"s":"76.8MHz 平均値","t":"2019-05-04T04:30","v":785},{"s":"76.8MHz 平均値","t":"2019-05-04T04:40","v":795},{"s":"76.8MHz 平均値","t":"2019-05-04T04:50","v":805},{"s":"76.8MHz 平均値","t":"2019-05-04T05:00","v":790},{"s":"76.8MHz 平均値","t":"2019-05-04T05:10","v":795},{"s":"76.8MHz 平均値","t":"2019-05-04T05:20","v":785},{"s":"76.8MHz 平均値","t":"2019-05-04T05:30","v":800},{"s":"76.8MHz 平均値","t":"2019-05-04T05:40","v":790},{"s":"76.8MHz 平均値","t":"2019-05-04T05:50","v":800},{"s":"76.8MHz 平均値","t":"2019-05-04T06:00","v":785},{"s":"76.8MHz 平均値","t":"2019-05-04T06:10","v":790},{"s":"76.8MHz 平均値","t":"2019-05-04T06:20","v":780},{"s":"76.8MHz 平均値","t":"2019-05-04T06:30","v":790},{"s":"76.8MHz 平均値","t":"2019-05-04T06:40","v":765},{"s":"76.8MHz 平均値","t":"2019-05-04T06:50","v":758},{"s":"76.8MHz 平均値","t":"2019-05-04T07:00","v":745},{"s":"76.8MHz 平均値","t":"2019-05-04T07:10","v":740},{"s":"76.8MHz 平均値","t":"2019-05-04T07:20","v":738},{"s":"76.8MHz 平均値","t":"2019-05-04T07:40","v":735},{"s":"76.8MHz 平均値","t":"2019-05-04T08:00","v":734},{"s":"76.8MHz 平均値","t":"2019-05-04T08:20","v":736},{"s":"76.8MHz 平均値","t":"2019-05-04T08:40","v":733},{"s":"76.8MHz 平均値","t":"2019-05-04T09:00","v":735},{"s":"76.8MHz 平均値","t":"2019-05-04T09:20","v":734},{"s":"76.8MHz 平均値","t":"2019-05-04T09:40","v":736},{"s":"76.8MHz 平均値","t":"2019-05-04T10:00","v":733},{"s":"76.8MHz 平均値","t":"2019-05-04T10:20","v":735},{"s":"76.8MHz 平均値","t":"2019-05-04T10:40","v":734},{"s":"76.8MHz 平均値","t":"2019-05-04T11:00","v":736},{"s":"76.8MHz 平均値","t":"2019-05-04T11:20","v":733},{"s":"76.8MHz 平均値","t":"2019-05-04T11:40","v":735},{"s":"76.8MHz 平均値","t":"2019-05-04T12:00","v":730},{"s":"76.8MHz 平均値","t":"2019-05-04T12:10","v":722},{"s":"76.8MHz 平均値","t":"2019-05-04T12:30","v":720},{"s":"76.8MHz 平均値","t":"2019-05-04T12:40","v":724},{"s":"76.8MHz 平均値","t":"2019-05-04T12:50","v":730},{"s":"76.8MHz 平均値","t":"2019-05-04T13:10","v":733},{"s":"76.8MHz 平均値","t":"2019-05-04T13:30","v":730},{"s":"76.8MHz 平均値","t":"2019-05-04T13:50","v":732},{"s":"76.8MHz 平均値","t":"2019-05-04T14:10","v":730},{"s":"76.8MHz 平均値","t":"2019-05-04T14:30","v":733},{"s":"76.8MHz 平均値","t":"2019-05-04T14:50","v":735},{"s":"76.8MHz 平均値","t":"2019-05-04T15:00","v":745},{"s":"76.8MHz 平均値","t":"2019-05-04T15:10","v":790},{"s":"76.8MHz 平均値","t":"2019-05-04T15:15","v":770},{"s":"76.8MHz 平均値","t":"2019-05-04T15:20","v":775},{"s":"76.8MHz 平均値","t":"2019-05-04T15:30","v":770},{"s":"76.8MHz 平均値","t":"2019-05-04T15:40","v":780},{"s":"76.8MHz 平均値","t":"2019-05-04T15:50","v":775},{"s":"76.8MHz 平均値","t":"2019-05-04T16:00","v":790},{"s":"76.8MHz 平均値","t":"2019-05-04T16:10","v":800},{"s":"76.8MHz 平均値","t":"2019-05-04T16:20","v":795},{"s":"76.8MHz 平均値","t":"2019-05-04T16:30","v":810},{"s":"76.8MHz 平均値","t":"2019-05-04T16:40","v":800},{"s":"76.8MHz 平均値","t":"2019-05-04T16:50","v":795},{"s":"76.8MHz 平均値","t":"2019-05-04T17:00","v":810},{"s":"76.8MHz 平均値","t":"2019-05-04T17:10","v":805},{"s":"76.8MHz 平均値","t":"2019-05-04T17:20","v":795},{"s":"76.8MHz 平均値","t":"2019-05-04T17:30","v":790},{"s":"76.8MHz 平均値","t":"2019-05-04T17:40","v":785},{"s":"76.8MHz 平均値","t":"2019-05-04T17:50","v":780},{"s":"76.8MHz 平均値","t":"2019-05-04T18:00","v":790},{"s":"76.8MHz 平均値","t":"2019-05-04T18:20","v":792},{"s":"76.8MHz 平均値","t":"2019-05-04T18:40","v":790},{"s":"76.8MHz 平均値","t":"2019-05-04T19:00","v":792},{"s":"76.8MHz 平均値","t":"2019-05-04T19:20","v":806},{"s":"76.8MHz 平均値","t":"2019-05-04T19:40","v":795},{"s":"76.8MHz 平均値","t":"2019-05-04T20:00","v":792},{"s":"76.8MHz 平均値","t":"2019-05-04T20:20","v":793},{"s":"76.8MHz 平均値","t":"2019-05-04T20:40","v":792},{"s":"76.8MHz 平均値","t":"2019-05-04T21:00","v":790},{"s":"76.8MHz 平均値","t":"2019-05-04T21:20","v":792},{"s":"76.8MHz 平均値","t":"2019-05-04T21:40","v":790},{"s":"76.8MHz 平均値","t":"2019-05-04T22:00","v":792},{"s":"76.8MHz 平均値","t":"2019-05-04T22:20","v":793},{"s":"76.8MHz 平均値","t":"2019-05-04T22:40","v":792},{"s":"76.8MHz 平均値","t":"2019-05-04T23:00","v":795},{"s":"76.8MHz 平均値","t":"2019-05-04T23:20","v":798},{"s":"76.8MHz 平均値","t":"2019-05-04T23:40","v":796},{"s":"76.8MHz 平均値","t":"2019-05-05T00:00","v":796},
{"s":"77.45MHz 平均値","t":"2019-05-04T00:00","v":615},{"s":"77.45MHz 平均値","t":"2019-05-04T00:05","v":602},{"s":"77.45MHz 平均値","t":"2019-05-04T00:10","v":620},{"s":"77.45MHz 平均値","t":"2019-05-04T00:20","v":612},{"s":"77.45MHz 平均値","t":"2019-05-04T00:30","v":620},{"s":"77.45MHz 平均値","t":"2019-05-04T00:35","v":604},{"s":"77.45MHz 平均値","t":"2019-05-04T00:40","v":615},{"s":"77.45MHz 平均値","t":"2019-05-04T00:50","v":618},{"s":"77.45MHz 平均値","t":"2019-05-04T01:00","v":620},{"s":"77.45MHz 平均値","t":"2019-05-04T01:10","v":615},{"s":"77.45MHz 平均値","t":"2019-05-04T01:20","v":620},
{"s":"77.45MHz 平均値","t":"2019-05-04T03:35","v":620},{"s":"77.45MHz 平均値","t":"2019-05-04T03:50","v":618},{"s":"77.45MHz 平均値","t":"2019-05-04T04:10","v":620},{"s":"77.45MHz 平均値","t":"2019-05-04T04:30","v":618},{"s":"77.45MHz 平均値","t":"2019-05-04T04:50","v":620},{"s":"77.45MHz 平均値","t":"2019-05-04T05:00","v":615},{"s":"77.45MHz 平均値","t":"2019-05-04T05:10","v":610},{"s":"77.45MHz 平均値","t":"2019-05-04T05:30","v":612},{"s":"77.45MHz 平均値","t":"2019-05-04T05:50","v":610},{"s":"77.45MHz 平均値","t":"2019-05-04T06:10","v":612},{"s":"77.45MHz 平均値","t":"2019-05-04T06:30","v":610},{"s":"77.45MHz 平均値","t":"2019-05-04T06:50","v":605},{"s":"77.45MHz 平均値","t":"2019-05-04T06:58","v":570},{"s":"77.45MHz 平均値","t":"2019-05-04T07:10","v":560},{"s":"77.45MHz 平均値","t":"2019-05-04T07:30","v":555},{"s":"77.45MHz 平均値","t":"2019-05-04T07:50","v":552},{"s":"77.45MHz 平均値","t":"2019-05-04T08:10","v":555},{"s":"77.45MHz 平均値","t":"2019-05-04T08:30","v":550},{"s":"77.45MHz 平均値","t":"2019-05-04T08:50","v":548},{"s":"77.45MHz 平均値","t":"2019-05-04T09:10","v":540},{"s":"77.45MHz 平均値","t":"2019-05-04T09:30","v":545},{"s":"77.45MHz 平均値","t":"2019-05-04T09:50","v":540},{"s":"77.45MHz 平均値","t":"2019-05-04T10:10","v":545},{"s":"77.45MHz 平均値","t":"2019-05-04T10:30","v":538},{"s":"77.45MHz 平均値","t":"2019-05-04T10:50","v":535},{"s":"77.45MHz 平均値","t":"2019-05-04T11:00","v":525},{"s":"77.45MHz 平均値","t":"2019-05-04T11:10","v":530},{"s":"77.45MHz 平均値","t":"2019-05-04T11:30","v":535},{"s":"77.45MHz 平均値","t":"2019-05-04T11:50","v":530},{"s":"77.45MHz 平均値","t":"2019-05-04T12:10","v":528},{"s":"77.45MHz 平均値","t":"2019-05-04T12:30","v":532},{"s":"77.45MHz 平均値","t":"2019-05-04T12:50","v":530},{"s":"77.45MHz 平均値","t":"2019-05-04T13:10","v":535},{"s":"77.45MHz 平均値","t":"2019-05-04T13:30","v":538},{"s":"77.45MHz 平均値","t":"2019-05-04T13:50","v":540},{"s":"77.45MHz 平均値","t":"2019-05-04T14:10","v":540},{"s":"77.45MHz 平均値","t":"2019-05-04T14:30","v":542},{"s":"77.45MHz 平均値","t":"2019-05-04T14:45","v":545},{"s":"77.45MHz 平均値","t":"2019-05-04T14:48","v":560},{"s":"77.45MHz 平均値","t":"2019-05-04T14:50","v":870},{"s":"77.45MHz 平均値","t":"2019-05-04T14:52","v":650},{"s":"77.45MHz 平均値","t":"2019-05-04T14:55","v":580},{"s":"77.45MHz 平均値","t":"2019-05-04T15:00","v":585},{"s":"77.45MHz 平均値","t":"2019-05-04T15:05","v":620},{"s":"77.45MHz 平均値","t":"2019-05-04T15:08","v":660},{"s":"77.45MHz 平均値","t":"2019-05-04T15:12","v":610},{"s":"77.45MHz 平均値","t":"2019-05-04T15:20","v":580},{"s":"77.45MHz 平均値","t":"2019-05-04T15:30","v":590},{"s":"77.45MHz 平均値","t":"2019-05-04T15:40","v":600},{"s":"77.45MHz 平均値","t":"2019-05-04T15:50","v":595},{"s":"77.45MHz 平均値","t":"2019-05-04T16:00","v":610},{"s":"77.45MHz 平均値","t":"2019-05-04T16:10","v":630},{"s":"77.45MHz 平均値","t":"2019-05-04T16:20","v":625},{"s":"77.45MHz 平均値","t":"2019-05-04T16:30","v":630},{"s":"77.45MHz 平均値","t":"2019-05-04T16:40","v":635},{"s":"77.45MHz 平均値","t":"2019-05-04T16:50","v":640},{"s":"77.45MHz 平均値","t":"2019-05-04T17:00","v":645},{"s":"77.45MHz 平均値","t":"2019-05-04T17:10","v":650},{"s":"77.45MHz 平均値","t":"2019-05-04T17:20","v":655},{"s":"77.45MHz 平均値","t":"2019-05-04T17:30","v":660},{"s":"77.45MHz 平均値","t":"2019-05-04T17:40","v":660},{"s":"77.45MHz 平均値","t":"2019-05-04T17:50","v":655},{"s":"77.45MHz 平均値","t":"2019-05-04T18:00","v":665},{"s":"77.45MHz 平均値","t":"2019-05-04T18:10","v":660},{"s":"77.45MHz 平均値","t":"2019-05-04T18:30","v":670},{"s":"77.45MHz 平均値","t":"2019-05-04T18:50","v":685},{"s":"77.45MHz 平均値","t":"2019-05-04T19:00","v":680},{"s":"77.45MHz 平均値","t":"2019-05-04T19:20","v":665},{"s":"77.45MHz 平均値","t":"2019-05-04T19:40","v":660},{"s":"77.45MHz 平均値","t":"2019-05-04T20:00","v":650},{"s":"77.45MHz 平均値","t":"2019-05-04T20:20","v":648},{"s":"77.45MHz 平均値","t":"2019-05-04T20:40","v":650},{"s":"77.45MHz 平均値","t":"2019-05-04T21:00","v":645},{"s":"77.45MHz 平均値","t":"2019-05-04T21:20","v":648},{"s":"77.45MHz 平均値","t":"2019-05-04T21:40","v":640},{"s":"77.45MHz 平均値","t":"2019-05-04T22:00","v":628},{"s":"77.45MHz 平均値","t":"2019-05-04T22:10","v":645},{"s":"77.45MHz 平均値","t":"2019-05-04T22:30","v":650},{"s":"77.45MHz 平均値","t":"2019-05-04T22:50","v":648},{"s":"77.45MHz 平均値","t":"2019-05-04T23:10","v":645},{"s":"77.45MHz 平均値","t":"2019-05-04T23:30","v":645},{"s":"77.45MHz 平均値","t":"2019-05-04T23:50","v":643},{"s":"77.45MHz 平均値","t":"2019-05-05T00:00","v":640}
]},
"mark": {"type": "line", "strokeWidth": 1},
"encoding": {
 "x": {"field": "t", "type": "temporal", "title": "Hour",
  "scale": {"domain": ["2019-05-04T00:00", "2019-05-05T00:00"], "nice": false},
  "axis": {"format": "%H:%M", "tickCount": 24, "labelAngle": 270, "labelPadding": 9, "titlePadding": 12, "labelOverlap": false, "labelFlush": false}},
 "y": {"field": "v", "type": "quantitative", "title": "dBm",
  "scale": {"domain": [0, 3000], "nice": false},
  "axis": {"values": [0, 500, 1000, 1500, 2000, 2500, 3000], "format": "d", "labelPadding": 5, "titlePadding": 10, "titleFontSize": 10}},
 "color": {"field": "s", "type": "nominal",
  "scale": {"domain": ["76.8MHz 最大値", "76.8MHz 平均値", "77.45MHz 最大値", "77.45MHz 平均値"], "range": ["#11cc11", "#006600", "#cccc00", "#ff6600"]},
  "legend": {"title": null, "orient": "none", "direction": "horizontal", "legendX": 277, "legendY": 331, "symbolType": "stroke", "symbolSize": 100, "symbolStrokeWidth": 2, "labelFont": "DejaVu Sans Mono, Noto Sans CJK JP", "labelFontSize": 11, "labelColor": "#000000", "labelOffset": 9, "columnPadding": 16, "labelLimit": 300}},
 "order": {"field": "t"}
}
}
